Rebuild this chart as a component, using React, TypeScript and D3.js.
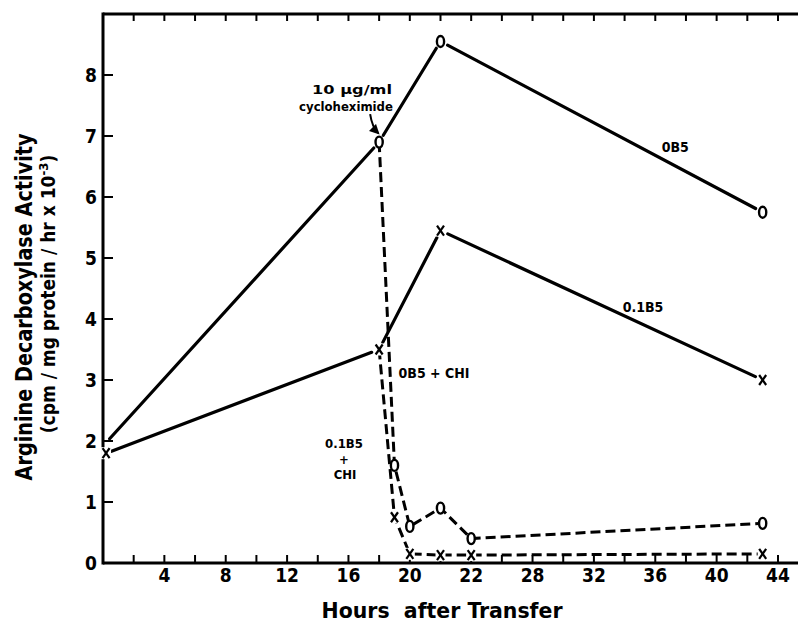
import React from "react";
import * as d3 from "d3";

const WIDTH = 798;
const HEIGHT = 626;
const FRAME = { left: 103, top: 14, right: 798, bottom: 563 };
const FONT = '"Liberation Sans Narrow", "DejaVu Sans Condensed", "Liberation Sans", sans-serif';

// hand-drawn x axis: one tick = 2 h, except 20-22 (1 h/tick) and 22-28 (3 h/tick)
const breakHours = [0, 20, 22, 28, 44];
const breakTicks = [0, 10, 12, 14, 22];
const tickHours = [2, 4, 6, 8, 10, 12, 14, 16, 18, 20, 21, 22, 25, 28, 30, 32, 34, 36, 38, 40, 42, 44];
const tickLabels = [4, 8, 12, 16, 20, 22, 28, 32, 36, 40, 44];
const yTicks = [0, 1, 2, 3, 4, 5, 6, 7, 8];

// series (activity, cpm/mg protein/hr x 10^-3)
const hours0B5 = [0.3, 18, 21, 43];
const values0B5 = [2.0, 6.9, 8.55, 5.75];
const hours01B5 = [0.2, 18, 21, 43];
const values01B5 = [1.8, 3.5, 5.45, 3.0];
const hoursCHI = [18, 19, 20, 21, 22, 43];
const values0B5CHI = [6.9, 1.6, 0.6, 0.9, 0.4, 0.65];
const values01B5CHI = [3.5, 0.75, 0.15, 0.13, 0.13, 0.15];

type Pt = [number, number];

const shorten = (a: Pt, b: Pt, g1: number, g2: number) => {
  const dx = b[0] - a[0];
  const dy = b[1] - a[1];
  const len = Math.sqrt(dx * dx + dy * dy);
  const ux = dx / len;
  const uy = dy / len;
  return [a[0] + ux * g1, a[1] + uy * g1, b[0] - ux * g2, b[1] - uy * g2];
};

const OMark = ({ x, y }: { x: number; y: number }) => (
  <ellipse cx={x} cy={y} rx={3.6} ry={5.5} fill="white" stroke="black" strokeWidth={2.4} />
);

const XMark = ({ x, y }: { x: number; y: number }) => (
  <g stroke="black" strokeWidth={2.2} fill="none">
    <rect x={x - 5} y={y - 6} width={10} height={12} fill="white" stroke="none" />
    <line x1={x - 3.5} y1={y - 5} x2={x + 3.5} y2={y + 5} />
    <line x1={x + 3.5} y1={y - 5} x2={x - 3.5} y2={y + 5} />
  </g>
);

export default function App() {
  const tickIdx = d3.scaleLinear().domain([0, 22]).range([FRAME.left, 778]);
  const xScale = d3.scaleLinear().domain(breakHours).range(breakTicks.map((t) => tickIdx(t)));
  const yScale = d3.scaleLinear().domain([0, 9]).range([FRAME.bottom, FRAME.top]);

  const pts = (hs: number[], vs: number[]): Pt[] => hs.map((h, i) => [xScale(h), yScale(vs[i])]);

  const solid0B5 = pts(hours0B5, values0B5);
  const solid01B5 = pts(hours01B5, values01B5);
  const dash0B5 = pts(hoursCHI, values0B5CHI);
  const dash01B5 = pts(hoursCHI, values01B5CHI);

  const line = d3.line<Pt>().x((d) => d[0]).y((d) => d[1]);

  const solidSegs = (p: Pt[], key: string) =>
    p.slice(1).map((b, i) => {
      const a = p[i];
      const s = shorten(a, b, i === 0 ? 3 : 8, 8);
      return (
        <line key={key + i} x1={s[0]} y1={s[1]} x2={s[2]} y2={s[3]}
          stroke="black" strokeWidth={3.2} strokeLinecap="round" />
      );
    });

  const arrowEnd: Pt = [xScale(18) - 1, yScale(6.9) - 9];

  return (
    <svg width={WIDTH} height={HEIGHT} style={{ position: "absolute", left: 0, top: 0, background: "white" }}
      fontFamily={FONT} fontWeight="bold">
      <defs>
        <marker id="arrow" viewBox="0 0 10 10" refX="8" refY="5" markerWidth="5" markerHeight="5" orient="auto">
          <path d="M0,0 L10,5 L0,10 z" fill="black" />
        </marker>
      </defs>

      {/* frame */}
      <line x1={FRAME.left} y1={FRAME.top} x2={FRAME.right} y2={FRAME.top} stroke="black" strokeWidth={3} />
      <line x1={FRAME.left} y1={FRAME.top - 1.5} x2={FRAME.left} y2={FRAME.bottom + 1.5} stroke="black" strokeWidth={3} />
      <line x1={FRAME.left} y1={FRAME.bottom} x2={FRAME.right} y2={FRAME.bottom} stroke="black" strokeWidth={3} />

      {/* x ticks, bottom and top */}
      {tickHours.map((h) => (
        <g key={"xt" + h} stroke="black" strokeWidth={2}>
          <line x1={xScale(h)} x2={xScale(h)} y1={FRAME.bottom} y2={FRAME.bottom - 8} />
          <line x1={xScale(h)} x2={xScale(h)} y1={FRAME.top} y2={FRAME.top + 7} />
        </g>
      ))}
      {tickLabels.map((h) => (
        <text key={"xl" + h} x={xScale(h)} y={582} textAnchor="middle" fontSize={19}>{h}</text>
      ))}

      {/* y ticks */}
      {yTicks.map((v) => (
        <g key={"yt" + v}>
          {v > 0 && <line x1={FRAME.left} x2={FRAME.left + 10} y1={yScale(v)} y2={yScale(v)} stroke="black" strokeWidth={2} />}
          <text x={97} y={yScale(v) + 7} textAnchor="end" fontSize={19}>{v}</text>
        </g>
      ))}

      {/* axis titles */}
      <text x={442} y={618} textAnchor="middle" fontSize={22} textLength={241} lengthAdjust="spacingAndGlyphs">
        Hours{"\u00a0\u00a0"}after Transfer
      </text>
      <text transform="translate(32,307) rotate(-90)" textAnchor="middle" fontSize={23}
        textLength={347} lengthAdjust="spacingAndGlyphs">
        Arginine Decarboxylase Activity
      </text>
      <text transform="translate(55,294) rotate(-90)" textAnchor="middle" fontSize={19}>
        (cpm / mg protein / hr x 10<tspan dy={-7} fontSize={13}>-3</tspan><tspan dy={7}>)</tspan>
      </text>

      {/* dashed CHI series */}
      <path d={line(dash0B5) || ""} fill="none" stroke="black" strokeWidth={3} strokeDasharray="10 5" />
      <path d={line(dash01B5) || ""} fill="none" stroke="black" strokeWidth={3} strokeDasharray="10 5" />

      {/* solid series */}
      {solidSegs(solid0B5, "a")}
      {solidSegs(solid01B5, "b")}

      {/* markers */}
      {dash0B5.slice(1).map((p, i) => <OMark key={"do" + i} x={p[0]} y={p[1]} />)}
      {dash01B5.slice(1).map((p, i) => <XMark key={"dx" + i} x={p[0]} y={p[1]} />)}
      {solid0B5.slice(1).map((p, i) => <OMark key={"so" + i} x={p[0]} y={p[1]} />)}
      {solid01B5.map((p, i) => <XMark key={"sx" + i} x={p[0]} y={p[1]} />)}

      {/* annotations */}
      <text x={352} y={94} textAnchor="middle" fontSize={13} textLength={80} lengthAdjust="spacingAndGlyphs">10 µg/ml</text>
      <text x={346} y={111} textAnchor="middle" fontSize={13}>cycloheximide</text>
      <path d={`M${arrowEnd[0] - 8},${arrowEnd[1] - 19} Q${arrowEnd[0] - 6},${arrowEnd[1] - 6} ${arrowEnd[0]},${arrowEnd[1]}`}
        fill="none" stroke="black" strokeWidth={2} markerEnd="url(#arrow)" />
      <text x={xScale(37.3)} y={yScale(6.74)} textAnchor="middle" fontSize={14}>0B5</text>
      <text x={xScale(35.2)} y={yScale(4.11)} textAnchor="middle" fontSize={14}>0.1B5</text>
      <text x={434} y={378} textAnchor="middle" fontSize={14}>0B5 + CHI</text>
      <text x={344} y={448} textAnchor="middle" fontSize={13}>0.1B5</text>
      <text x={344} y={464} textAnchor="middle" fontSize={13}>+</text>
      <text x={345} y={479} textAnchor="middle" fontSize={13}>CHI</text>
    </svg>
  );
}
